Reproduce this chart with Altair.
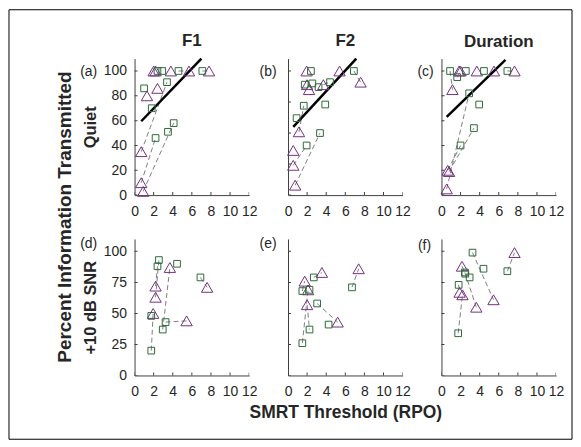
import altair as alt
import pandas as pd

FONT = "Liberation Sans"
TXT = "#262626"
AXC = "#404040"
PURPLE = "#76307f"
GREEN = "#2d6a3a"
DASH = "#808080"

X_TICKS = [0, 2, 4, 6, 8, 10, 12]
Y_TICKS_20 = [0, 20, 40, 60, 80, 100]
Y_TICKS_25 = [0, 25, 50, 75, 100]
X_DOMAIN = [0, 12]
Y_DOMAIN = [0, 110]

COLUMN_TITLES = ["F1", "F2", "Duration"]
ROW_TITLES = ["Quiet", "+10 dB SNR"]
PANEL_LETTERS = ["(a)", "(b)", "(c)", "(d)", "(e)", "(f)"]
Y_TITLE = "Percent Information Transmitted"
X_TITLE = "SMRT Threshold (RPO)"

# ---- panel (a): F1, quiet
A_TRI_X = [2.0, 2.2, 3.8, 5.7, 7.8, 2.4, 1.3, 0.7, 0.7, 0.9]
A_TRI_Y = [100, 100, 100, 100, 100, 86, 80, 35, 10, 3]
A_SQ_X = [1.0, 1.8, 3.4, 2.4, 2.9, 4.6, 7.1, 2.2, 3.5, 4.1]
A_SQ_Y = [86, 70, 91, 100, 100, 100, 100, 46, 51, 58]
A_PAIRS = [(8, 7), (9, 9), (7, 2), (4, 6), (3, 5)]
A_FIT_X = [0.7, 7.0]
A_FIT_Y = [59.5, 110]

# ---- panel (b): F2, quiet
B_TRI_X = [1.95, 5.4, 7.6, 2.0, 2.2, 3.7, 1.15, 0.55, 0.55, 0.75]
B_TRI_Y = [100, 100, 91, 89, 85, 89, 51, 36, 24, 8]
B_SQ_X = [2.4, 6.9, 1.75, 2.55, 3.2, 4.4, 1.65, 3.9, 0.9, 3.35, 1.95]
B_SQ_Y = [100, 100, 89, 90, 87, 91, 72, 73, 62, 50, 40]
B_PAIRS = [(9, 9), (8, 10), (6, 6), (5, 5), (2, 1)]
B_FIT_X = [0.55, 7.15]
B_FIT_Y = [55, 110]

# ---- panel (c): Duration, quiet
C_TRI_X = [1.85, 2.0, 3.7, 5.5, 7.65, 1.15, 0.65, 0.8, 0.55]
C_TRI_Y = [100, 100, 100, 100, 100, 85, 20, 19, 5]
C_SQ_X = [0.9, 1.65, 2.55, 4.45, 6.9, 2.9, 3.95, 3.4, 2.0]
C_SQ_Y = [100, 95, 100, 100, 100, 82, 73, 54, 40]
C_PAIRS = [(8, 5), (7, 7), (6, 8), (4, 4), (1, 1), (5, 0)]
C_FIT_X = [0.55, 6.7]
C_FIT_Y = [63, 109]

# ---- panel (d): F1, +10 dB SNR
D_TRI_X = [3.7, 2.2, 2.2, 1.95, 5.45, 7.6]
D_TRI_Y = [87, 72, 63, 50, 44, 71]
D_SQ_X = [2.55, 2.4, 4.45, 6.9, 1.75, 3.25, 2.95, 1.75]
D_SQ_Y = [93, 88, 90, 79, 48, 43, 37, 20]
D_PAIRS = [(0, 6), (4, 5), (5, 3), (3, 7), (2, 0), (1, 1)]

# ---- panel (e): F2, +10 dB SNR
E_TRI_X = [3.55, 7.4, 1.75, 2.1, 2.0, 5.2]
E_TRI_Y = [83, 86, 76, 69, 57, 43]
E_SQ_X = [2.7, 6.7, 1.5, 2.25, 3.05, 4.25, 2.25, 1.5]
E_SQ_Y = [79, 71, 68, 69, 58, 41, 37, 26]
E_PAIRS = [(0, 0), (1, 1), (5, 4), (4, 6), (3, 7), (2, 2)]

# ---- panel (f): Duration, +10 dB SNR
F_TRI_X = [7.65, 2.15, 1.9, 2.2, 3.65, 5.45]
F_TRI_Y = [99, 88, 67, 65, 55, 61]
F_SQ_X = [3.25, 4.4, 6.9, 2.45, 2.5, 2.95, 1.8, 1.75]
F_SQ_Y = [99, 86, 84, 83, 82, 79, 73, 34]
F_PAIRS = [(0, 2), (5, 0), (4, 3), (3, 7), (1, 4), (2, 6)]

W, H = 115, 137


def build_panel(tri_x, tri_y, sq_x, sq_y, pairs, fit_x, fit_y, y_ticks,
                letter, letter_dx, letter_dy, show_y_labels, y_title,
                x_title, col_title, decorate=False):
    tri = pd.DataFrame({"x": tri_x, "y": tri_y})
    sq = pd.DataFrame({"x": sq_x, "y": sq_y})
    rows = []
    for k, (ti, si) in enumerate(pairs):
        rows.append({"pair": k, "x": tri_x[ti], "y": tri_y[ti]})
        rows.append({"pair": k, "x": sq_x[si], "y": sq_y[si]})
    seg = pd.DataFrame(rows)

    x_axis = alt.Axis(values=X_TICKS, grid=False, ticks=False, tickSize=0,
                      domainColor=AXC, domainWidth=1, labelColor=TXT,
                      labelFont=FONT, labelFontSize=14, labelPadding=9,
                      labelFlush=False, labelOverlap=False,
                      titleFont=FONT, titleFontSize=17.5,
                      titleFontWeight="bold", titleColor=TXT, titlePadding=5)
    y_axis = alt.Axis(values=y_ticks, grid=False, ticks=False, tickSize=0,
                      labels=show_y_labels, domainColor=AXC, domainWidth=1,
                      labelColor=TXT, labelFont=FONT, labelFontSize=14,
                      labelPadding=8, labelOverlap=False,
                      titleFont=FONT, titleFontSize=16.5,
                      titleFontWeight="bold", titleColor=TXT, titlePadding=5)
    xenc = alt.X("x:Q", scale=alt.Scale(domain=X_DOMAIN, nice=False, zero=False),
                 axis=x_axis, title=x_title)
    yenc = alt.Y("y:Q", scale=alt.Scale(domain=Y_DOMAIN, nice=False, zero=False),
                 axis=y_axis, title=y_title)

    layers = [
        alt.Chart(seg).mark_line(color=DASH, strokeDash=[5, 3], strokeWidth=1)
        .encode(x=xenc, y=yenc, detail="pair:N")
    ]
    if fit_x:
        layers.append(
            alt.Chart(pd.DataFrame({"x": fit_x, "y": fit_y}))
            .mark_line(color="black", strokeWidth=2.5)
            .encode(x=xenc, y=yenc))
    xt = pd.DataFrame({"x": X_TICKS, "y": [Y_DOMAIN[0]] * len(X_TICKS)})
    layers.append(
        alt.Chart(xt).mark_tick(orient="vertical", size=6, thickness=1,
                                color=AXC, clip=True, opacity=1)
        .encode(x=xenc, y=yenc))
    yt = pd.DataFrame({"x": [X_DOMAIN[0]] * len(y_ticks), "y": y_ticks})
    layers.append(
        alt.Chart(yt).mark_tick(orient="horizontal", size=6, thickness=1,
                                color=AXC, clip=True, opacity=1)
        .encode(x=xenc, y=yenc))
    layers.append(
        alt.Chart(tri).mark_point(shape="triangle-up", size=130, filled=False,
                                  color=PURPLE, strokeWidth=1, opacity=1)
        .encode(x=xenc, y=yenc))
    layers.append(
        alt.Chart(sq).mark_point(shape="square", size=45, filled=False,
                                 color=GREEN, strokeWidth=1, opacity=1)
        .encode(x=xenc, y=yenc))
    layers.append(
        alt.Chart(pd.DataFrame({"t": [letter]}))
        .mark_text(font=FONT, fontSize=14, color=TXT, align="center",
                   baseline="middle")
        .encode(text="t:N", x=alt.value(letter_dx), y=alt.value(letter_dy)))
    if decorate:
        # shared y title and outer figure border, placed relative to this view
        layers.append(
            alt.Chart(pd.DataFrame({"t": [Y_TITLE]}))
            .mark_text(font=FONT, fontSize=19, fontWeight="bold", color=TXT,
                       align="center", baseline="middle", angle=270)
            .encode(text="t:N", x=alt.value(-70), y=alt.value(-22)))
        layers.append(
            alt.Chart(pd.DataFrame({"t": [0]}))
            .mark_rect(stroke="black", strokeWidth=1, fillOpacity=0,
                       fill="white")
            .encode(x=alt.value(-126), x2=alt.value(439),
                    y=alt.value(-230), y2=alt.value(201)))
    ch = alt.layer(*layers).properties(width=W, height=H)
    if col_title:
        ch = ch.properties(title=alt.TitleParams(
            col_title, font=FONT, fontSize=17, fontWeight="bold", color=TXT,
            offset=4, anchor="middle"))
    return ch


pa = build_panel(A_TRI_X, A_TRI_Y, A_SQ_X, A_SQ_Y, A_PAIRS, A_FIT_X, A_FIT_Y,
                 Y_TICKS_20, PANEL_LETTERS[0], -46, 13, True, ROW_TITLES[0],
                 None, COLUMN_TITLES[0])
pb = build_panel(B_TRI_X, B_TRI_Y, B_SQ_X, B_SQ_Y, B_PAIRS, B_FIT_X, B_FIT_Y,
                 Y_TICKS_25, PANEL_LETTERS[1], -20, 13, False, None,
                 None, COLUMN_TITLES[1])
pc = build_panel(C_TRI_X, C_TRI_Y, C_SQ_X, C_SQ_Y, C_PAIRS, C_FIT_X, C_FIT_Y,
                 Y_TICKS_20, PANEL_LETTERS[2], -16, 13, False, None,
                 None, COLUMN_TITLES[2])
pd_ = build_panel(D_TRI_X, D_TRI_Y, D_SQ_X, D_SQ_Y, D_PAIRS, None, None,
                  Y_TICKS_25, PANEL_LETTERS[3], -46, 5, True, ROW_TITLES[1],
                  None, None, decorate=True)
pe = build_panel(E_TRI_X, E_TRI_Y, E_SQ_X, E_SQ_Y, E_PAIRS, None, None,
                 Y_TICKS_25, PANEL_LETTERS[4], -20, 5, False, None,
                 X_TITLE, None)
pf = build_panel(F_TRI_X, F_TRI_Y, F_SQ_X, F_SQ_Y, F_PAIRS, None, None,
                 Y_TICKS_25, PANEL_LETTERS[5], -17, 7, False, None,
                 None, None)

chart = alt.concat(pa, pb, pc, pd_, pe, pf, columns=3,
                   spacing={"row": 44, "column": 39}, bounds="flush").properties(
    padding={"left": 0, "top": 0, "right": 0, "bottom": 0},
).configure_view(stroke="transparent")

chart.save("out.html", embed_options={"renderer": "svg", "actions": False})
